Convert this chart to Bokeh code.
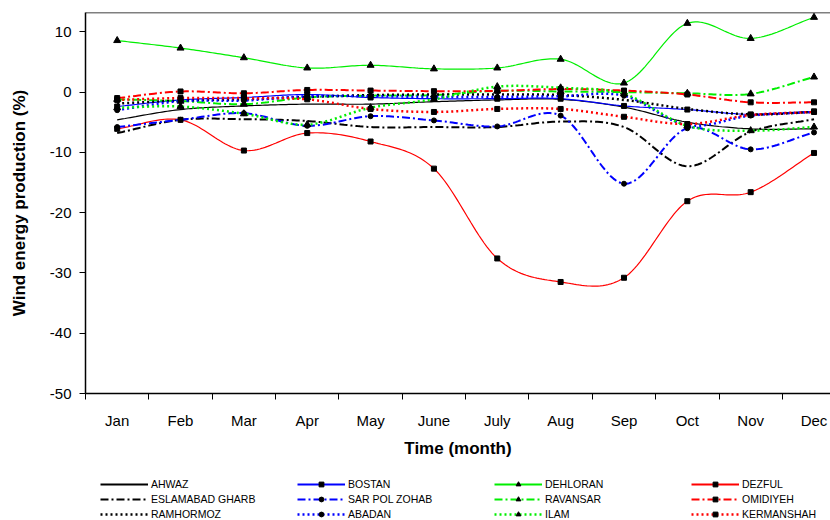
import numpy as np
from bokeh.plotting import figure
from bokeh.layouts import column
from bokeh.models import Legend, LegendItem, FixedTicker, Range1d, Span
from bokeh.embed import file_html
from bokeh.resources import INLINE

months = ["Jan", "Feb", "Mar", "Apr", "May", "June", "July", "Aug", "Sep", "Oct", "Nov", "Dec"]
y_ticks = [10, 0, -10, -20, -30, -40, -50]

ahwaz = [-4.6, -2.9, -2.3, -2.0, -2.0, -1.6, -1.3, -1.2, -2.5, -5.0, -6.1, -6.1]
bostan = [-2.4, -1.3, -0.9, -0.4, -0.9, -1.1, -1.1, -1.1, -2.3, -2.9, -3.7, -3.2]
dehloran = [8.55, 7.3, 5.7, 4.0, 4.45, 3.85, 4.0, 5.45, 1.5, 11.4, 8.9, 12.4]
dezful = [-6.1, -4.6, -9.7, -6.8, -8.2, -12.7, -27.6, -31.5, -30.8, -18.1, -16.6, -10.1]
eslamabad_gharb = [-6.8, -4.6, -4.5, -4.8, -5.8, -5.8, -5.8, -4.9, -5.8, -12.3, -6.6, -4.5]
sar_pol_zohab = [-5.8, -4.6, -3.5, -5.6, -4.0, -4.7, -5.7, -3.9, -15.2, -6.0, -9.5, -6.7]
ravansar = [-1.2, -1.5, -2.0, -0.9, -0.6, -0.5, 0.2, 0.1, 0.0, -0.2, -0.3, 2.5]
omidiyeh = [-1.0, 0.1, -0.2, 0.35, 0.25, 0.15, 0.2, 0.5, 0.25, -0.4, -1.7, -1.7]
ramhormoz = [-1.9, -1.4, -1.2, -0.8, -0.5, -0.4, -0.4, -0.5, -1.3, -2.8, -3.7, -3.3]
abadan = [-3.0, -1.5, -1.4, -0.7, -0.7, -0.8, -0.8, -0.7, -0.6, -5.5, -3.9, -3.3]
ilam = [-2.6, -2.4, -3.6, -5.4, -2.6, -1.2, 0.9, 0.7, -0.3, -5.6, -6.4, -5.8]
kermanshah = [-1.3, -1.0, -1.0, -1.2, -2.8, -3.3, -2.8, -2.8, -4.1, -5.3, -3.8, -3.3]

# name, values, color, dash, width, marker
series = [
    ("AHWAZ", ahwaz, "#000000", "solid", 1.2, None),
    ("BOSTAN", bostan, "#0000FF", "solid", 1.2, "square"),
    ("DEHLORAN", dehloran, "#00EE00", "solid", 1.2, "triangle"),
    ("DEZFUL", dezful, "#FF0000", "solid", 1.2, "square"),
    ("ESLAMABAD GHARB", eslamabad_gharb, "#000000", "8 3 2 3", 2, None),
    ("SAR POL ZOHAB", sar_pol_zohab, "#0000FF", "8 3 2 3", 2, "circle"),
    ("RAVANSAR", ravansar, "#00EE00", "8 3 2 3", 2, "triangle"),
    ("OMIDIYEH", omidiyeh, "#FF0000", "8 3 2 3", 2, "square"),
    ("RAMHORMOZ", ramhormoz, "#000000", "2 3", 2.5, None),
    ("ABADAN", abadan, "#0000FF", "2 3", 2.5, "circle"),
    ("ILAM", ilam, "#00EE00", "2 3", 2.5, "triangle"),
    ("KERMANSHAH", kermanshah, "#FF0000", "2 3", 2.5, "square"),
]


def smooth(vals, n=24):
    v = np.asarray(vals, dtype=float)
    x = np.arange(1, len(v) + 1, dtype=float)
    ext = np.concatenate([[2 * v[0] - v[1]], v, [2 * v[-1] - v[-2]]])
    t = np.linspace(0, 1, n, endpoint=False)
    h00 = 2 * t**3 - 3 * t**2 + 1
    h10 = t**3 - 2 * t**2 + t
    h01 = -2 * t**3 + 3 * t**2
    h11 = t**3 - t**2
    xs, ys = [], []
    for i in range(len(v) - 1):
        p0, p1 = ext[i + 1], ext[i + 2]
        m0 = (ext[i + 2] - ext[i]) / 2
        m1 = (ext[i + 3] - ext[i + 1]) / 2
        xs.extend(list(x[i] + t))
        ys.extend(list(h00 * p0 + h10 * m0 + h01 * p1 + h11 * m1))
    xs.append(x[-1])
    ys.append(v[-1])
    return xs, ys


FONT = "Liberation Sans"

p = figure(width=830, height=463, x_range=Range1d(0.5, 12.26), y_range=Range1d(-50, 13.2),
           output_backend="svg", toolbar_location=None,
           min_border_left=85, min_border_right=0, min_border_top=12, min_border_bottom=70)
p.outline_line_color = None
p.xgrid.visible = False
p.ygrid.visible = False

xm = list(range(1, 13))
for name, vals, color, dash, lw, marker in series:
    sx, sy = smooth(vals)
    p.line(sx, sy, line_color=color, line_width=lw, line_dash=dash)
    if marker is not None:
        size = 7 if marker == "triangle" else 5
        p.scatter(xm, vals, marker=marker, size=size, fill_color="black", line_color="black")

p.add_layout(Span(location=13.2, dimension="width", line_color="black", line_width=1.5))

# y axis
ya = p.yaxis[0]
ya.ticker = FixedTicker(ticks=y_ticks)
ya.major_label_overrides = {t: str(t) for t in y_ticks}
ya.major_tick_out = 6
ya.major_tick_in = 0
ya.minor_tick_line_color = None
ya.axis_line_width = 1.5
ya.major_tick_line_width = 1
ya.major_label_text_font = FONT
ya.major_label_text_font_size = "15px"
ya.major_label_text_color = "black"
ya.major_label_standoff = 8
ya.axis_label = "Wind energy production (%)"
ya.axis_label_text_font = FONT
ya.axis_label_text_font_style = "bold"
ya.axis_label_text_font_size = "17px"
ya.axis_label_text_color = "black"
ya.axis_label_standoff = 18

# x axis
xa = p.xaxis[0]
xa.ticker = FixedTicker(ticks=xm, minor_ticks=[i + 0.5 for i in range(0, 13)])
xa.major_label_overrides = {i + 1: m for i, m in enumerate(months)}
xa.major_tick_line_color = None
xa.major_tick_out = 6
xa.major_tick_in = 0
xa.minor_tick_out = 6
xa.minor_tick_in = 0
xa.minor_tick_line_color = "black"
xa.axis_line_width = 1.5
xa.major_label_text_font = FONT
xa.major_label_text_font_size = "15px"
xa.major_label_text_color = "black"
xa.major_label_standoff = 12
xa.axis_label = "Time (month)"
xa.axis_label_text_font = FONT
xa.axis_label_text_font_style = "bold"
xa.axis_label_text_font_size = "17px"
xa.axis_label_text_color = "black"
xa.axis_label_standoff = 7

# legend panel below the chart: same series drawn out of view, used only as legend keys
pl = figure(width=830, height=57, x_range=Range1d(0.5, 12.5), y_range=Range1d(1000, 1001),
            output_backend="svg", toolbar_location=None, min_border=0)
pl.axis.visible = False
pl.xgrid.visible = False
pl.ygrid.visible = False
pl.outline_line_color = None

items = []
for name, vals, color, dash, lw, marker in series:
    key_lw = 2 if dash == "solid" else lw
    rs = [pl.line(xm, vals, line_color=color, line_width=key_lw, line_dash=dash)]
    if marker is not None:
        size = 7 if marker == "triangle" else 5
        rs.append(pl.scatter(xm, vals, marker=marker, size=size, fill_color="black", line_color="black"))
    items.append(LegendItem(label=name, renderers=rs))

legend = Legend(items=items, location=(15, 0), orientation="horizontal", ncols=4,
                glyph_width=48, glyph_height=12, label_height=12, label_width=143,
                label_standoff=3, spacing=3, padding=0, margin=0,
                border_line_color=None, background_fill_alpha=0,
                label_text_font=FONT, label_text_font_size="10.5px", label_text_color="black")
pl.add_layout(legend)

layout = column(p, pl, spacing=0)
open("out.html", "w").write(file_html(layout, INLINE))
